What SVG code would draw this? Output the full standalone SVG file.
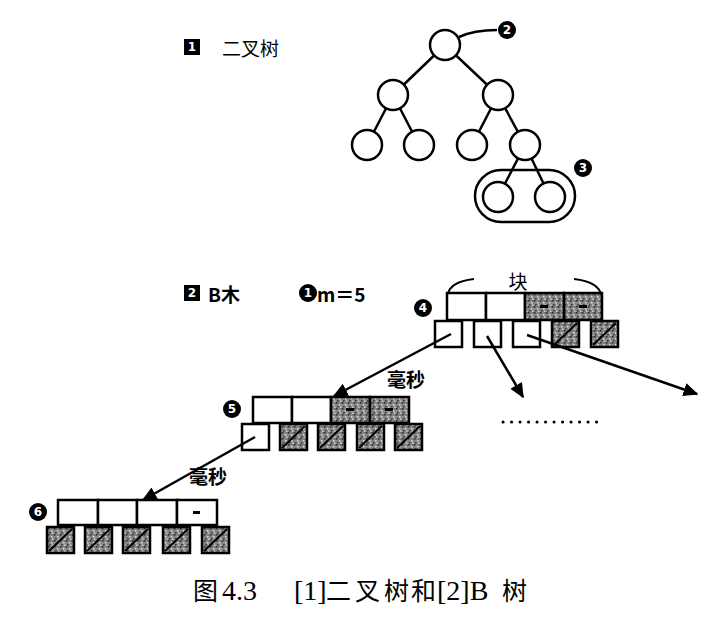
<svg xmlns="http://www.w3.org/2000/svg" width="718" height="630" viewBox="0 0 718 630">
<defs>
<pattern id="stip" width="6" height="6" patternUnits="userSpaceOnUse">
<rect width="6" height="6" fill="#858585"/>
<rect x="0" y="0" width="1.5" height="1.5" fill="#2a2a2a"/>
<rect x="3" y="2" width="1.5" height="1.5" fill="#ddd"/>
<rect x="1" y="4" width="1.5" height="1.5" fill="#3a3a3a"/>
<rect x="4" y="4.5" width="1.5" height="1.5" fill="#ccc"/>
<rect x="4.5" y="0.5" width="1" height="1" fill="#444"/>
</pattern>
<marker id="ah" viewBox="0 0 10 10" refX="9" refY="5" markerWidth="6" markerHeight="6" orient="auto" markerUnits="strokeWidth">
<path d="M0,0.5 L10,5 L0,9.5 Z" fill="#000"/>
</marker>
</defs>
<style>
.c{fill:#fff;stroke:#000;stroke-width:2.5}
.e{stroke:#000;stroke-width:2.5;fill:none}
.b{fill:#fff;stroke:#000;stroke-width:2.5}
.s{fill:url(#stip);stroke:#000;stroke-width:2.5}
.d{stroke:#000;stroke-width:2;fill:none}
.m{fill:#000}
.mk{fill:#fff;font-family:"DejaVu Sans",sans-serif;font-weight:bold;font-size:12px;text-anchor:middle;dominant-baseline:central}
.t{font-family:"Noto Sans CJK SC","Noto Sans",sans-serif;font-size:19px;fill:#000;dominant-baseline:central}
.a{stroke:#000;stroke-width:2.5;fill:none;marker-end:url(#ah)}
.cap{font-family:"Liberation Serif","Noto Sans CJK SC",serif;font-size:28px;fill:#000}
.capc{font-family:"Noto Sans CJK SC",sans-serif;font-size:25px;fill:#000}
</style>
<rect width="718" height="630" fill="#fff"/>

<g id="label1">
<rect class="m" x="184" y="39" width="16" height="16"/>
<text class="mk" x="192" y="47">1</text>
<text class="t" x="222" y="47" font-size="22">二叉树</text>
</g>

<g id="tree-edges">
<line class="e" x1="445" y1="45" x2="393" y2="95"/>
<line class="e" x1="445" y1="45" x2="498" y2="95"/>
<line class="e" x1="393" y1="95" x2="367" y2="145"/>
<line class="e" x1="393" y1="95" x2="419" y2="145"/>
<line class="e" x1="498" y1="95" x2="472" y2="145"/>
<line class="e" x1="498" y1="95" x2="525" y2="145"/>
<line class="e" x1="525" y1="145" x2="498" y2="197"/>
<line class="e" x1="525" y1="145" x2="550" y2="197"/>
<path class="e" d="M459,37 Q474,30 497,30"/>
</g>

<g id="group3">
<rect x="475" y="170" width="100" height="52" rx="26" ry="26" fill="none" stroke="#000" stroke-width="2.5"/>
</g>

<g id="tree">
<circle id="n0" class="c" cx="445" cy="45" r="15"/>
<circle id="n1" class="c" cx="393" cy="95" r="15"/>
<circle id="n2" class="c" cx="498" cy="95" r="15"/>
<circle id="n3" class="c" cx="367" cy="145" r="15"/>
<circle id="n4" class="c" cx="419" cy="145" r="15"/>
<circle id="n5" class="c" cx="472" cy="145" r="15"/>
<circle id="n6" class="c" cx="525" cy="145" r="15"/>
<circle id="n7" class="c" cx="498" cy="197" r="15"/>
<circle id="n8" class="c" cx="550" cy="197" r="15"/>
</g>

<g id="mark2"><circle class="m" cx="507" cy="30" r="9"/><text class="mk" x="507" y="30">2</text></g>
<g id="mark3"><circle class="m" cx="583" cy="168" r="9"/><text class="mk" x="583" y="168">3</text></g>

<g id="label2">
<rect class="m" x="184" y="285" width="16" height="16"/>
<text class="mk" x="192" y="293">2</text>
<text class="t" x="208" y="293" font-size="17" font-weight="bold">B木</text>
</g>
<g id="labelm">
<circle class="m" cx="308" cy="293" r="9"/><text class="mk" x="308" y="293">1</text>
<text class="t" x="317" y="293" font-size="18" font-weight="bold">m＝5</text>
</g>

<g id="bnode4">
<path class="d" d="M448,295 Q449,282 474,279"/>
<path class="d" d="M574,279 Q599,282 601,295"/>
<text class="t" x="518" y="280" font-size="21" text-anchor="middle">块</text>
<rect class="b" x="447" y="293" width="39" height="27"/>
<rect class="b" x="486" y="293" width="39" height="27"/>
<rect class="s" x="525" y="293" width="39" height="27"/>
<rect class="s" x="564" y="293" width="38" height="27"/>
<rect x="540" y="305" width="8" height="3" fill="#000"/>
<rect x="579" y="305" width="8" height="3" fill="#000"/>
<rect class="b" x="435" y="321" width="27" height="26"/>
<rect class="b" x="474" y="321" width="27" height="26"/>
<rect class="b" x="513" y="321" width="27" height="26"/>
<rect class="s" x="552" y="321" width="27" height="26"/>
<rect class="s" x="591" y="321" width="27" height="26"/>
<line class="d" x1="554" y1="345" x2="577" y2="323"/>
<line class="d" x1="593" y1="345" x2="616" y2="323"/>
<circle class="m" cx="423" cy="308" r="9"/><text class="mk" x="423" y="308">4</text>
</g>

<g id="bnode5">
<rect class="b" x="253" y="397" width="39" height="26"/>
<rect class="b" x="292" y="397" width="39" height="26"/>
<rect class="s" x="331" y="397" width="39" height="26"/>
<rect class="s" x="370" y="397" width="39" height="26"/>
<rect x="346" y="408" width="8" height="3" fill="#000"/>
<rect x="385" y="408" width="8" height="3" fill="#000"/>
<rect class="b" x="242" y="424" width="27" height="26"/>
<rect class="s" x="280" y="424" width="27" height="26"/>
<rect class="s" x="318" y="424" width="27" height="26"/>
<rect class="s" x="357" y="424" width="27" height="26"/>
<rect class="s" x="395" y="424" width="27" height="26"/>
<line class="d" x1="282" y1="448" x2="305" y2="426"/>
<line class="d" x1="320" y1="448" x2="343" y2="426"/>
<line class="d" x1="359" y1="448" x2="382" y2="426"/>
<line class="d" x1="397" y1="448" x2="420" y2="426"/>
<circle class="m" cx="232" cy="409" r="9"/><text class="mk" x="232" y="409">5</text>
</g>

<g id="bnode6">
<rect class="b" x="58" y="500" width="40" height="25"/>
<rect class="b" x="98" y="500" width="39" height="25"/>
<rect class="b" x="137" y="500" width="40" height="25"/>
<rect class="b" x="177" y="500" width="40" height="25"/>
<rect x="193" y="511" width="7" height="3" fill="#000"/>
<rect class="s" x="47" y="527" width="27" height="26"/>
<rect class="s" x="85" y="527" width="27" height="26"/>
<rect class="s" x="123" y="527" width="27" height="26"/>
<rect class="s" x="163" y="527" width="27" height="26"/>
<rect class="s" x="202" y="527" width="27" height="26"/>
<line class="d" x1="49" y1="551" x2="72" y2="529"/>
<line class="d" x1="87" y1="551" x2="110" y2="529"/>
<line class="d" x1="125" y1="551" x2="148" y2="529"/>
<line class="d" x1="165" y1="551" x2="188" y2="529"/>
<line class="d" x1="204" y1="551" x2="227" y2="529"/>
<circle class="m" cx="38" cy="512" r="9"/><text class="mk" x="38" y="512">6</text>
</g>

<g id="connectors">
<line class="a" x1="451" y1="334" x2="334" y2="396"/>
<line class="a" x1="487" y1="336" x2="523" y2="397"/>
<line class="a" x1="527" y1="335" x2="697" y2="394"/>
<line class="a" x1="255" y1="437" x2="143" y2="500"/>
<line x1="503" y1="422" x2="604" y2="422" stroke="#000" stroke-width="3" stroke-dasharray="0.1,8.4" stroke-linecap="round"/>
<text class="t" x="406" y="378" font-size="21" font-weight="bold" text-anchor="middle">毫秒</text>
<text class="t" x="208" y="475" font-size="21" font-weight="bold" text-anchor="middle">毫秒</text>
</g>

<g id="caption">
<text class="capc" x="193" y="600">图</text>
<text class="cap" x="222" y="600">4.3</text>
<text class="cap" x="294" y="600">[1]</text>
<text class="capc" x="326 355 384 411" y="600">二叉树和</text>
<text class="cap" x="437" y="600">[2]B</text>
<text class="capc" x="502" y="600">树</text>
</g>
</svg>
